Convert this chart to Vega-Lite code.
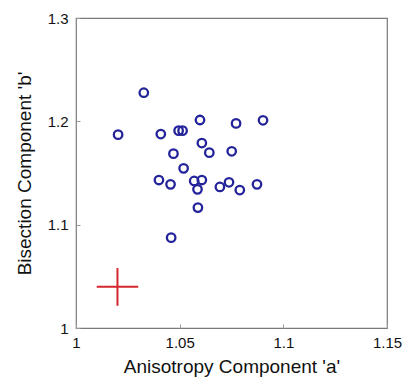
{
  "$schema": "https://vega.github.io/schema/vega-lite/v6.json",
  "width": 311,
  "height": 310,
  "autosize": {"type": "none"},
  "padding": {"left": 76, "top": 18, "right": 16, "bottom": 51},
  "background": "white",
  "config": {
    "view": {"stroke": "#7a7a7a", "strokeWidth": 1.2},
    "font": "Liberation Sans",
    "axis": {
      "grid": false,
      "domain": false,
      "tickColor": "#9a9a9a",
      "tickSize": -4,
      "labelFont": "Liberation Sans",
      "labelFontSize": 15,
      "labelColor": "#111111",
      "titleFont": "Liberation Sans",
      "titleFontSize": 19,
      "titleFontWeight": "normal",
      "titleColor": "#111111"
    }
  },
  "layer": [
    {
      "data": {"values": [
        {"a": 1.0327, "b": 1.2277},
        {"a": 1.0203, "b": 1.1871},
        {"a": 1.0409, "b": 1.1877},
        {"a": 1.0495, "b": 1.191},
        {"a": 1.0514, "b": 1.191},
        {"a": 1.0598, "b": 1.2013},
        {"a": 1.0772, "b": 1.198},
        {"a": 1.0902, "b": 1.201},
        {"a": 1.0607, "b": 1.179},
        {"a": 1.0643, "b": 1.1697},
        {"a": 1.047, "b": 1.1687},
        {"a": 1.0751, "b": 1.171},
        {"a": 1.0519, "b": 1.1545},
        {"a": 1.04, "b": 1.1432},
        {"a": 1.0456, "b": 1.139},
        {"a": 1.057, "b": 1.1423},
        {"a": 1.0607, "b": 1.1432},
        {"a": 1.0586, "b": 1.1342},
        {"a": 1.0694, "b": 1.1365},
        {"a": 1.0738, "b": 1.141},
        {"a": 1.079, "b": 1.1335},
        {"a": 1.0873, "b": 1.139},
        {"a": 1.0588, "b": 1.1165},
        {"a": 1.0459, "b": 1.0874}
      ]},
      "mark": {"type": "point", "shape": "circle", "filled": false, "size": 72, "strokeWidth": 2.3, "color": "#24249a", "opacity": 1},
      "encoding": {
        "x": {
          "field": "a", "type": "quantitative",
          "scale": {"domain": [1, 1.15], "nice": false, "zero": false},
          "axis": {"values": [1, 1.05, 1.1, 1.15], "title": "Anisotropy Component 'a'", "labelPadding": 11, "titlePadding": 7, "labelExpr": "datum.value == 1 ? '1' : format(datum.value, '.3~f')", "labelFlush": false}
        },
        "y": {
          "field": "b", "type": "quantitative",
          "scale": {"domain": [1, 1.3], "nice": false, "zero": false},
          "axis": {"values": [1, 1.1, 1.2, 1.3], "title": "Bisection Component 'b'", "labelPadding": 12, "titlePadding": 13, "labelExpr": "datum.value == 1 ? '1' : format(datum.value, '.1f')", "labelFlush": false}
        }
      }
    },
    {
      "data": {"values": [
        {"a": 1.01, "a2": 1.03, "b": 1.04, "b2": 1.04},
        {"a": 1.02, "a2": 1.02, "b": 1.0215, "b2": 1.058}
      ]},
      "mark": {"type": "rule", "color": "#d6262d", "strokeWidth": 2},
      "encoding": {
        "x": {"field": "a", "type": "quantitative"},
        "x2": {"field": "a2"},
        "y": {"field": "b", "type": "quantitative"},
        "y2": {"field": "b2"}
      }
    }
  ]
}
